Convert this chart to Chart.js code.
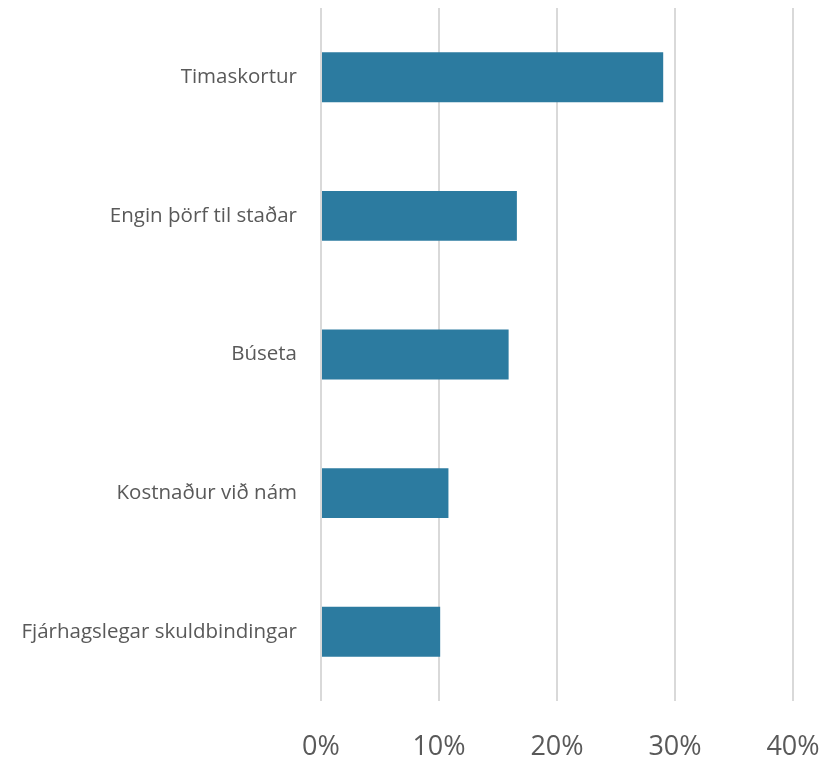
<!DOCTYPE html>
<html>
<head>
<meta charset="utf-8">
<script src="https://cdn.jsdelivr.net/npm/chart.js@4/dist/chart.umd.min.js"></script>
<style>
  html, body { margin: 0; padding: 0; background: #fff; }
  #wrap { width: 836px; height: 758px; }
</style>
</head>
<body>
<div id="wrap"><canvas id="reasonChart" width="836" height="758"></canvas></div>
<script>
var categories = [
  'Timaskortur',
  'Engin þörf til staðar',
  'Búseta',
  'Kostnaður við nám',
  'Fjárhagslegar skuldbindingar',
];
var shares = [0.29, 0.166, 0.159, 0.108, 0.101];
var tickValues = [0, 0.1, 0.2, 0.3, 0.4];

var ctx = document.getElementById('reasonChart').getContext('2d');

var reasonChart = new Chart(ctx, {
  type: 'bar',
  data: {
    labels: categories,
    datasets: [
      {
        data: shares,
        backgroundColor: '#2C7BA0',
        borderWidth: 0,
        categoryPercentage: 1,
        barPercentage: 0.36,
      },
    ],
  },
  options: {
    indexAxis: 'y',
    responsive: false,
    animation: false,
    layout: { padding: { top: 8, right: 43, left: 0, bottom: 0 } },
    plugins: {
      legend: { display: false },
      tooltip: { enabled: false },
    },
    scales: {
      x: {
        min: 0,
        max: 0.4,
        afterBuildTicks: function (axis) {
          axis.ticks = tickValues.map(function (v) { return { value: v }; });
        },
        afterFit: function (axis) {
          axis.height = 57;
          axis.paddingLeft = 0;
          axis.paddingRight = 0;
        },
        border: { display: false },
        grid: { color: '#d9d9d9', lineWidth: 2, drawTicks: false },
        ticks: {
          padding: 30,
          color: '#595959',
          font: { family: 'Open Sans', size: 27 },
          callback: function (v) { return Math.round(v * 100) + '%'; },
        },
      },
      y: {
        afterFit: function (axis) {
          axis.width = 321;
          axis.paddingTop = 0;
          axis.paddingBottom = 0;
        },
        border: { display: false },
        grid: { display: false, drawTicks: false },
        ticks: {
          padding: 24,
          color: '#595959',
          font: { family: 'Open Sans', size: 20.5 },
        },
      },
    },
  },
});
</script>
</body>
</html>
